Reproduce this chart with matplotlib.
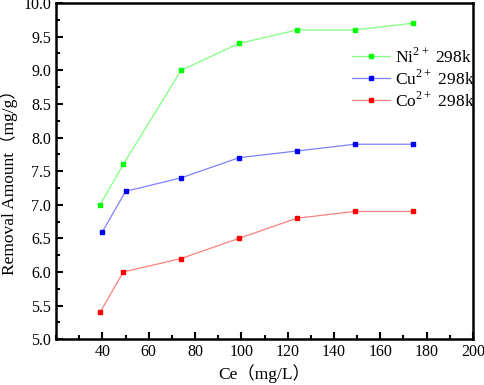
import matplotlib.pyplot as plt
from matplotlib.ticker import MultipleLocator

plt.rcParams['font.family'] = ['Liberation Serif', 'Noto Sans CJK SC']
plt.rcParams['mathtext.fontset'] = 'custom'
plt.rcParams['mathtext.rm'] = 'Liberation Serif'

# data
ce_ni = [39, 49, 74, 99, 124, 149, 174]
ni = [7.0, 7.6, 9.0, 9.4, 9.6, 9.6, 9.7]
ce_cu = [40, 50, 74, 99, 124, 149, 174]
cu = [6.6, 7.2, 7.4, 7.7, 7.8, 7.9, 7.9]
ce_co = [39, 49, 74, 99, 124, 149, 174]
co = [5.4, 6.0, 6.2, 6.5, 6.8, 6.9, 6.9]

xticks = [40, 60, 80, 100, 120, 140, 160, 180, 200]
yticks = [5.0, 5.5, 6.0, 6.5, 7.0, 7.5, 8.0, 8.5, 9.0, 9.5, 10.0]
labels = ['Ni$^{2+}$ 298k', 'Cu$^{2+}$ 298k', 'Co$^{2+}$ 298k']

fig = plt.figure(figsize=(4.84, 3.85), dpi=100)
ax = fig.add_axes([0.116, 0.119, 0.861, 0.873])

ax.plot(ce_ni, ni, color='#80ff80', lw=0.9, marker='s', ms=3.5,
        mfc='#00ff00', mec='#00ff00', label=labels[0])
ax.plot(ce_cu, cu, color='#8080ff', lw=0.9, marker='s', ms=3.5,
        mfc='#0000ff', mec='#0000ff', label=labels[1])
ax.plot(ce_co, co, color='#ff8080', lw=0.9, marker='s', ms=3.5,
        mfc='#ff0000', mec='#ff0000', label=labels[2])

ax.set_xlim(20, 200)
ax.set_ylim(5.0, 10.0)
ax.set_xticks(xticks, labels=[str(v) for v in xticks], fontsize=11.5)
ax.set_yticks(yticks, labels=[f'{v:.1f}' for v in yticks], fontsize=11.5)
ax.xaxis.set_minor_locator(MultipleLocator(10))
ax.yaxis.set_minor_locator(MultipleLocator(0.25))

ax.tick_params(which='both', direction='in', top=False, right=False, width=1.5)
ax.tick_params(which='major', length=5)
ax.tick_params(which='minor', length=3)
for s in ax.spines.values():
    s.set_linewidth(1.8)

ax.set_xlabel('Ce（mg/L）', fontsize=12.5, labelpad=3)
ax.set_ylabel('Removal Amount（mg/g）', fontsize=12.5)
ax.yaxis.set_label_coords(-0.092, 0.48)

ax.legend(loc='upper right', bbox_to_anchor=(1.03, 0.9), frameon=False,
          fontsize=12.5, handlelength=2.2, handletextpad=0.3, labelspacing=0.15,
          borderaxespad=0.2)

fig.savefig('out.png', dpi=100)
